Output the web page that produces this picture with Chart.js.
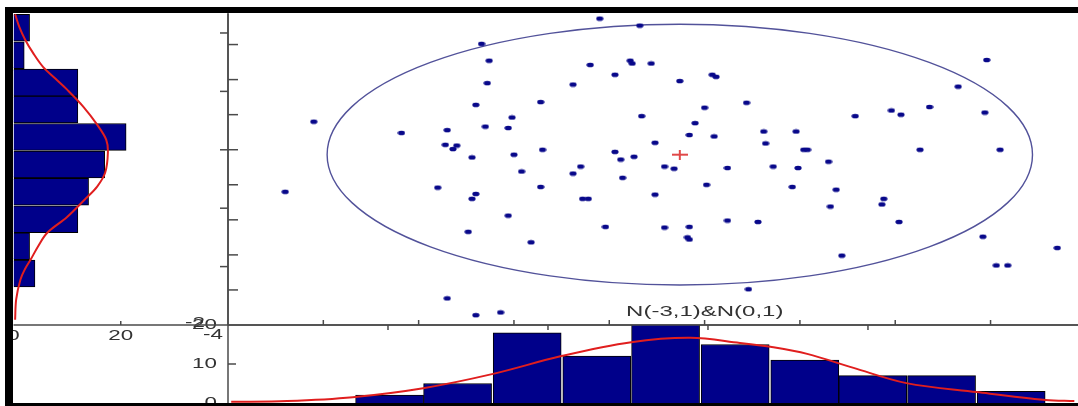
<!DOCTYPE html>
<html>
<head>
<meta charset="utf-8">
<script src="https://cdn.jsdelivr.net/npm/chart.js@4/dist/chart.umd.min.js"></script>
<style>
  html, body { margin: 0; padding: 0; background: #fff; }
  #stage { position: relative; width: 1078px; height: 406px; overflow: hidden; background: #fff; }
  #stage canvas { position: absolute; left: 0; top: 0; }
  #frame {
    position: absolute; left: 5px; top: 7px; width: 1073px; height: 399px;
    box-sizing: border-box; border-top: 6px solid #000; border-left: 8px solid #000;
    border-bottom: 3px solid #000; pointer-events: none;
  }
</style>
</head>
<body>
<div id="stage">
  <canvas id="scatterCanvas" width="1078" height="406"></canvas>
  <canvas id="bottomCanvas" width="1078" height="406"></canvas>
  <canvas id="leftCanvas" width="1078" height="406"></canvas>
  <div id="frame"></div>
</div>
<script>
// ---------- sample values ----------
const xVals = [
  -3.55, -3.34, -4.17, -4.13, -3.60, -3.39, -3.38, -3.47, -4.14, -3.69,
  -3.86, -4.20, -3.33, -4.01, -5.05, -4.15, -4.03, -4.59, -4.35, -4.36,
  -4.32, -4.30, -4.22, -4.00, -3.85, -3.47, -3.44, -3.37, -3.65, -3.69,
  -3.96, -3.43, -5.20, -4.40, -3.86, -4.20, -4.22, -3.64, -3.61, -3.28,
  -1.52, -2.96, -2.94, -3.13, -1.67, -2.78, -3.00, -1.82, -2.21, -2.02,
  -1.97, -1.53, -3.05, -3.08, -2.95, -2.69, -2.52, -3.26, -2.68, -2.48,
  -2.46, -1.87, -1.45, -3.21, -3.16, -2.88, -2.64, -2.51, -2.35, -2.99,
  -2.54, -2.31, -3.26, -2.06, -2.07, -2.34, -3.52, -3.21, -3.08, -3.09,
  -3.08, -2.88, -2.72, -1.98, -4.03, -4.24, -3.91, -4.35, -4.20, -4.07,
  -2.28, -2.77, -1.54, -1.47, -1.41, -1.15
];
const yVals = [
   1.87,  1.77,  1.51,  1.27,  1.21,  1.27,  1.23,  1.07,  0.95,  0.93,
   0.68,  0.64,  0.48,  0.46,  0.40,  0.33,  0.31,  0.24,  0.28,  0.07,
   0.01,  0.06, -0.11, -0.07,  0.00, -0.03, -0.14, -0.10, -0.24, -0.34,
  -0.31, -0.40, -0.60, -0.54, -0.53, -0.63, -0.70, -0.70, -0.70,  1.23,
   1.28,  1.07,  1.04,  0.98,  0.90,  0.67,  0.60,  0.61,  0.48,  0.56,
   0.50,  0.53,  0.38,  0.21,  0.19,  0.26,  0.26,  0.10,  0.09,  0.00,
   0.00,  0.00,  0.00, -0.24, -0.27, -0.26, -0.24, -0.26, -0.17, -0.50,
  -0.53, -0.57, -0.64, -0.70, -0.78, -0.81, -1.10, -1.11, -1.10, -1.25,
  -1.28, -1.01, -1.03, -1.03, -0.94, -1.17, -1.32, -2.12, -2.36, -2.32,
  -1.51, -1.99, -1.24, -1.65, -1.65, -1.40
];
const meanPoint = [-3.13, -0.07];
const ellipseRadius = [1.85, 1.86];

// row histogram (left panel)
const leftBinCenters = [2.09, 1.62, 1.15, 0.69, 0.22, -0.25, -0.72, -1.19, -1.65, -2.12];
const leftCounts = [3, 2, 12, 12, 21, 17, 14, 12, 3, 4];
const leftFitPos = [2.32, 2.10, 1.88, 1.65, 1.42, 1.22, 1.03, 0.74, 0.43, 0.17, -0.05, -0.39, -0.63, -0.85, -1.15, -1.42, -1.65, -1.88, -2.05, -2.22, -2.56, -2.91];
const leftFitCount = [0.3, 1.1, 2.2, 3.7, 5.5, 7.8, 10.0, 13.0, 15.6, 17.3, 17.6, 17.1, 15.6, 13.3, 10.0, 6.3, 4.6, 3.2, 2.1, 1.3, 0.5, 0.3];
const leftCountTicks = [0, 20];

// column histogram (bottom panel)
const bottomBinCenters = [-2.99, -2.565, -2.13, -1.695, -1.265, -0.83, -0.395, 0.03, 0.46, 0.895];
const bottomCounts = [2, 5, 18, 12, 21, 15, 11, 7, 7, 3];
const bottomFitPos = [-3.98, -3.63, -3.22, -2.78, -2.35, -1.91, -1.48, -1.11, -0.80, -0.61, -0.38, -0.09, 0.24, 0.68, 1.11, 1.29];
const bottomFitCount = [0.3, 0.5, 1.5, 3.8, 7.4, 12.1, 15.6, 16.7, 15.4, 14.4, 12.6, 9.0, 5.1, 2.8, 0.8, 0.5];
const bottomCountTicks = [0, 10, 20];

const plotTitle = 'N(-3,1)&N(0,1)';

// ---------- drawing helpers ----------
const INK = '#4a4a4a';
const BAR_FILL = '#00008a';
const FIT_RED = '#e01e1e';
const TEXT_STRETCH = 1.6;

function seg(ctx, x1, y1, x2, y2) {
  ctx.beginPath(); ctx.moveTo(x1, y1); ctx.lineTo(x2, y2); ctx.stroke();
}
function label(ctx, text, x, y, align, size) {
  ctx.save();
  ctx.font = size + 'px "Liberation Sans", Arial, sans-serif';
  ctx.fillStyle = '#333';
  ctx.textBaseline = 'middle';
  ctx.textAlign = align;
  ctx.translate(x, y);
  ctx.scale(TEXT_STRETCH, 1);
  ctx.fillText(text, 0, 0);
  ctx.restore();
}
function onStep(v, step) {
  return Math.abs(v / step - Math.round(v / step)) < 1e-6;
}
// keep only the round tick values strictly inside the axis range
function roundTicksOnly(step) {
  return scale => {
    scale.ticks = scale.ticks.filter(t => onStep(t.value, step) && t.value > scale.min + 1e-9 && t.value < scale.max - 1e-9);
  };
}

// marker bitmaps
function dotMarker() {
  const c = document.createElement('canvas');
  c.width = 8; c.height = 6;
  const g = c.getContext('2d');
  g.fillStyle = '#08088a';
  g.beginPath();
  g.ellipse(4, 3, 3.6, 2.3, 0, 0, Math.PI * 2);
  g.fill();
  return c;
}
function plusMarker() {
  const c = document.createElement('canvas');
  c.width = 16; c.height = 10;
  const g = c.getContext('2d');
  g.strokeStyle = '#e04848';
  g.lineWidth = 2;
  g.beginPath(); g.moveTo(0, 5); g.lineTo(16, 5); g.moveTo(8, 0); g.lineTo(8, 10); g.stroke();
  return c;
}

const W = 1078, H = 406;
const SPLIT_X = 228, SPLIT_Y = 325;

const common = {
  responsive: false,
  animation: false,
  devicePixelRatio: 1,
  events: [],
  plugins: { legend: { display: false }, tooltip: { enabled: false }, title: { display: false } }
};

// ---------- scatter panel ----------
const scatterFrame = {
  id: 'scatterFrame',
  beforeDatasetsDraw(chart) {
    const { ctx, scales: { x, y } } = chart;
    const cx = x.getPixelForValue(meanPoint[0]);
    const cy = y.getPixelForValue(meanPoint[1]);
    const rx = Math.abs(x.getPixelForValue(meanPoint[0] + ellipseRadius[0]) - cx);
    const ry = Math.abs(y.getPixelForValue(meanPoint[1] + ellipseRadius[1]) - cy);
    ctx.save();
    ctx.strokeStyle = '#52529a';
    ctx.lineWidth = 1.4;
    ctx.beginPath();
    ctx.ellipse(cx, cy, rx, ry, 0, 0, Math.PI * 2);
    ctx.stroke();
    ctx.restore();
  },
  afterDraw(chart) {
    const { ctx, chartArea: a, scales: { x, y } } = chart;
    ctx.save();
    ctx.strokeStyle = INK;
    ctx.lineWidth = 1.5;
    seg(ctx, a.left, a.top, a.left, a.bottom);
    seg(ctx, a.left, a.bottom, chart.width, a.bottom);
    y.ticks.forEach(t => { const p = y.getPixelForValue(t.value); seg(ctx, a.left, p, a.left + 10, p); });
    x.ticks.forEach(t => { const p = x.getPixelForValue(t.value); seg(ctx, p, a.bottom, p, a.bottom - 5); });
    ctx.restore();
  }
};

new Chart(document.getElementById('scatterCanvas'), {
  type: 'scatter',
  data: {
    datasets: [
      {
        data: xVals.map((v, i) => ({ x: v, y: yVals[i] })),
        pointStyle: dotMarker(),
        pointRadius: 4
      },
      {
        data: [{ x: meanPoint[0], y: meanPoint[1] }],
        pointStyle: plusMarker(),
        pointRadius: 8
      }
    ]
  },
  options: {
    ...common,
    layout: { padding: { left: SPLIT_X, right: 3, top: 13, bottom: H - SPLIT_Y } },
    scales: {
      x: { type: 'linear', display: false, min: -5.5, max: -1.0885, ticks: { stepSize: 0.5 }, afterBuildTicks: roundTicksOnly(0.5) },
      y: { type: 'linear', display: false, min: -2.5, max: 1.95, ticks: { stepSize: 0.5 }, afterBuildTicks: roundTicksOnly(0.5) }
    }
  },
  plugins: [scatterFrame]
});

// ---------- bottom histogram ----------
const bottomFrame = {
  id: 'bottomFrame',
  afterDraw(chart) {
    const { ctx, chartArea: a, scales: { x, y } } = chart;
    ctx.save();
    ctx.strokeStyle = INK;
    ctx.lineWidth = 1.5;
    seg(ctx, a.left, a.top, chart.width, a.top);
    seg(ctx, a.left, a.top, a.left, a.bottom);
    x.ticks.forEach(t => { const p = x.getPixelForValue(t.value); seg(ctx, p, a.top, p, a.top + 5); });
    bottomCountTicks.forEach(v => {
      const p = y.getPixelForValue(v);
      if (v > y.min && v < y.max) seg(ctx, a.left, p, a.left + 8, p);
      label(ctx, String(v), a.left - 11, p, 'right', 14);
    });
    ctx.restore();
    label(ctx, '-2', a.left - 23, a.top - 2, 'right', 14);
    label(ctx, '-4', a.left - 5, a.top + 10, 'right', 14);
    label(ctx, plotTitle, x.getPixelForValue(-1.02), a.top - 13, 'center', 15);
  }
};

new Chart(document.getElementById('bottomCanvas'), {
  data: {
    datasets: [
      {
        type: 'bar',
        data: bottomBinCenters.map((c, i) => ({ x: c, y: bottomCounts[i] })),
        backgroundColor: BAR_FILL,
        borderColor: '#000',
        borderWidth: 1,
        barPercentage: 1,
        categoryPercentage: 1,
        order: 2
      },
      {
        type: 'line',
        data: bottomFitPos.map((p, i) => ({ x: p, y: bottomFitCount[i] })),
        borderColor: FIT_RED,
        borderWidth: 2,
        pointRadius: 0,
        tension: 0.35,
        order: 1
      }
    ]
  },
  options: {
    ...common,
    layout: { padding: { left: SPLIT_X, right: 3, top: SPLIT_Y, bottom: 3 } },
    scales: {
      x: { type: 'linear', display: false, offset: false, min: -4, max: 1.294, ticks: { stepSize: 1 }, afterBuildTicks: roundTicksOnly(1) },
      y: { type: 'linear', display: false, min: 0, max: 20, ticks: { stepSize: 10 } }
    }
  },
  plugins: [bottomFrame]
});

// ---------- left histogram ----------
const leftFrame = {
  id: 'leftFrame',
  afterDraw(chart) {
    const { ctx, chartArea: a, scales: { x, y } } = chart;
    ctx.save();
    ctx.strokeStyle = INK;
    ctx.lineWidth = 1.5;
    seg(ctx, a.left, a.bottom, a.right, a.bottom);
    seg(ctx, a.right, a.top, a.right, a.bottom);
    y.ticks.forEach(t => { const p = y.getPixelForValue(t.value); seg(ctx, a.right, p, a.right - 8, p); });
    leftCountTicks.forEach(v => {
      const p = x.getPixelForValue(v);
      if (v > x.min) seg(ctx, p, a.bottom, p, a.bottom - 4);
      label(ctx, String(v), p, a.bottom + 11, 'center', 14);
    });
    ctx.restore();
  }
};

new Chart(document.getElementById('leftCanvas'), {
  data: {
    datasets: [
      {
        type: 'bar',
        data: leftBinCenters.map((c, i) => ({ x: leftCounts[i], y: c })),
        backgroundColor: BAR_FILL,
        borderColor: '#000',
        borderWidth: 1,
        barPercentage: 1,
        categoryPercentage: 1,
        order: 2
      },
      {
        type: 'line',
        data: leftFitPos.map((p, i) => ({ x: leftFitCount[i], y: p })),
        borderColor: FIT_RED,
        borderWidth: 2,
        pointRadius: 0,
        tension: 0.35,
        order: 1
      }
    ]
  },
  options: {
    ...common,
    indexAxis: 'y',
    layout: { padding: { left: 13.5, right: W - SPLIT_X, top: 14, bottom: H - SPLIT_Y } },
    scales: {
      x: { type: 'linear', display: false, min: 0, max: 40, ticks: { stepSize: 20 } },
      y: { type: 'linear', display: false, offset: false, min: -3, max: 2.325, ticks: { stepSize: 1 }, afterBuildTicks: roundTicksOnly(1) }
    }
  },
  plugins: [leftFrame]
});
</script>
</body>
</html>
